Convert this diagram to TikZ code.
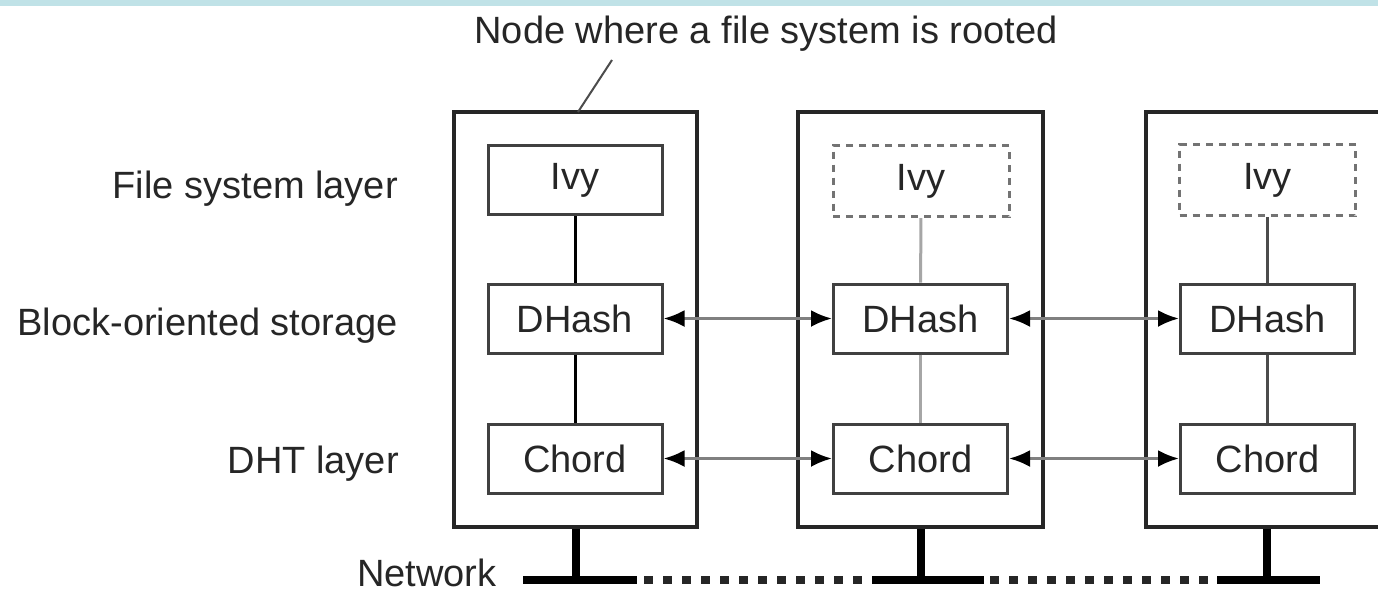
\documentclass[tikz,border=0pt]{standalone}
\usepackage{fontspec}
\setmainfont{Liberation Sans}
\usetikzlibrary{arrows.meta}
\definecolor{topband}{RGB}{192,226,231}
\begin{document}
\begin{tikzpicture}[x=1pt,y=-1pt,
  every node/.style={font=\fontsize{38}{44}\selectfont, text=black!85},
  outerbox/.style={draw=black!85, line width=4.5pt, minimum width=243pt, minimum height=415pt, inner sep=0pt},
  innerbox/.style={draw=black!75, line width=3pt, minimum width=174pt, minimum height=69pt, inner sep=0pt},
  ghostbox/.style={draw=black!55, line width=3pt, dash pattern=on 7pt off 6pt, minimum width=176pt, minimum height=71pt, inner sep=0pt},
  layerlabel/.style={anchor=base east, inner sep=0pt},
  peerlink/.style={draw=black!50, line width=3pt, {Latex[length=21pt,width=17pt,black]}-{Latex[length=21pt,width=17pt,black]}},
  stack/.style={line width=3pt},
  stem/.style={draw=black, line width=8pt},
  netsolid/.style={draw=black, line width=8pt},
  netdotted/.style={draw=black!85, line width=8pt, dash pattern=on 9pt off 10pt}
]
\useasboundingbox (0,0) rectangle (1378,595);
\clip (0,0) rectangle (1378,595);
\fill[white] (0,0) rectangle (1378,595);
\fill[topband] (0,0) rectangle (1378,6);

% title
\node[anchor=base, inner sep=0pt] (title) at (766,43) {Node where a file system is rooted};

% layer labels
\node[layerlabel] (lfs) at (398,198) {File system layer};
\node[layerlabel] (lbo) at (398,335) {Block-oriented storage};
\node[layerlabel] (ldht) at (399,473) {DHT layer};
\node[anchor=base west, inner sep=0pt, text depth=0pt] (lnet) at (357,586) {Network};

% outer boxes
\node[outerbox] (box1) at (575.5,319.5) {};
\node[outerbox, minimum width=245pt] (box2) at (920.5,319.5) {};
\node[outerbox, minimum width=245pt] (box3) at (1268.5,319.5) {};

% node 1
\node[innerbox] (ivy1) at (575,180) {Ivy};
\node[innerbox] (dh1) at (575,318.5) {DHash};
\node[innerbox] (ch1) at (575,458.5) {Chord};
% node 2
\node[ghostbox] (ivy2) at (921,181) {Ivy};
\node[innerbox] (dh2) at (920.5,318.5) {DHash};
\node[innerbox] (ch2) at (920.5,458.5) {Chord};
% node 3
\node[ghostbox] (ivy3) at (1267.5,180) {Ivy};
\node[innerbox] (dh3) at (1267.5,318.5) {DHash};
\node[innerbox] (ch3) at (1267.5,458.5) {Chord};

% stacks
\draw[stack, black] (ivy1) -- (dh1);
\draw[stack, black] (dh1) -- (ch1);
\draw[stack, black!35] (ivy2) -- (dh2);
\draw[stack, black!35] (dh2) -- (ch2);
\draw[stack, black!70] (ivy3) -- (dh3);
\draw[stack, black!70] (dh3) -- (ch3);

% peer links
\draw[peerlink] (dh1.east) -- (dh2.west);
\draw[peerlink] (dh2.east) -- (dh3.west);
\draw[peerlink] (ch1.east) -- (ch2.west);
\draw[peerlink] (ch2.east) -- (ch3.west);

% pointer from title to root node
\coordinate (sA) at (578,112);
\coordinate (sB) at (612,60);
\draw[black!70, line width=2pt] (sA) -- (sB);

% network
\coordinate (netL) at (523,580);
\coordinate (n1) at (575.5,580);
\coordinate (d1s) at (637,580);
\coordinate (d1e) at (872,580);
\coordinate (n2) at (920.5,580);
\coordinate (d2s) at (984,580);
\coordinate (d2e) at (1217,580);
\coordinate (n3) at (1267,580);
\coordinate (netR) at (1320,580);

\draw[stem] (box1.south) -- (n1);
\draw[stem] (box2.south) -- (n2);
\draw[stem] (box3.south -| n3) -- (n3);

\draw[netsolid] (netL) -- (d1s);
\draw[netdotted] ([xshift=7pt]d1s) -- (d1e);
\draw[netsolid] (d1e) -- (d2s);
\draw[netdotted] ([xshift=6pt]d2s) -- (d2e);
\draw[netsolid] (d2e) -- (netR);
\end{tikzpicture}
\end{document}
